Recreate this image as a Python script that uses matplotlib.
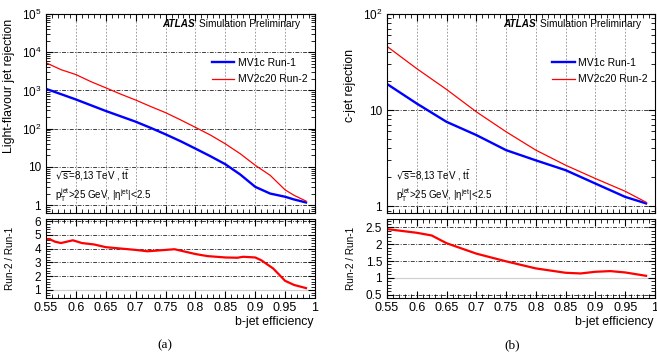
import math
import matplotlib
matplotlib.use('Agg')
import matplotlib.pyplot as plt
from matplotlib.ticker import MultipleLocator, LogLocator, FuncFormatter, NullFormatter

plt.rcParams['font.family'] = ['Liberation Sans', 'DejaVu Sans']
plt.rcParams['mathtext.default'] = 'regular'

# light-flavour jet rejection vs b-jet efficiency
light_eff = [0.55, 0.575, 0.60, 0.625, 0.65, 0.675, 0.70, 0.725, 0.75, 0.775, 0.80, 0.825,
             0.85, 0.875, 0.90, 0.925, 0.95, 0.965, 0.985]
light_mv1c = [1100, 800, 580, 410, 290, 210, 152, 105, 71, 47, 30, 19,
              11.7, 6.3, 3.0, 2.0, 1.65, 1.4, 1.17]
light_mv2c20 = [5300, 3500, 2600, 1700, 1170, 800, 560, 380, 262, 170, 108, 68,
                40, 22, 11, 6.0, 2.5, 1.8, 1.27]
light_ratio_eff = [0.55, 0.555, 0.565, 0.575, 0.585, 0.595, 0.61, 0.62, 0.63, 0.65, 0.70,
                   0.72, 0.75, 0.765, 0.80, 0.82, 0.85, 0.87, 0.88, 0.90, 0.91, 0.93,
                   0.95, 0.965, 0.985]
light_ratio = [4.65, 4.7, 4.5, 4.4, 4.5, 4.6, 4.4, 4.35, 4.3, 4.1, 3.9,
               3.8, 3.9, 3.95, 3.6, 3.45, 3.35, 3.33, 3.4, 3.35, 3.15, 2.55,
               1.65, 1.35, 1.12]

# c-jet rejection vs b-jet efficiency
c_eff = [0.55, 0.60, 0.65, 0.70, 0.75, 0.80, 0.85, 0.90, 0.95, 0.985]
c_mv1c = [18.7, 11.7, 7.55, 5.5, 3.83, 3.0, 2.37, 1.72, 1.25, 1.07]
c_mv2c20 = [46, 27, 16.4, 9.6, 5.95, 3.83, 2.67, 1.94, 1.43, 1.1]
c_ratio_eff = [0.55, 0.60, 0.625, 0.65, 0.70, 0.75, 0.80, 0.85, 0.875, 0.90, 0.925, 0.95, 0.985]
c_ratio = [2.45, 2.34, 2.26, 2.03, 1.72, 1.49, 1.28, 1.15, 1.13, 1.18, 1.2, 1.16, 1.06]

eff_ticks = [0.55, 0.6, 0.65, 0.7, 0.75, 0.8, 0.85, 0.9, 0.95, 1.0]
eff_labels = ['0.55', '0.6', '0.65', '0.7', '0.75', '0.8', '0.85', '0.9', '0.95', '1']

W, H = 657, 352
fig = plt.figure(figsize=(W / 100, H / 100), dpi=100)


def box(x0, x1, y0, y1):
    return [x0 / W, 1 - y1 / H, (x1 - x0) / W, (y1 - y0) / H]


def log_label(v, pos):
    if v == 1:
        return '1'
    if v == 10:
        return '10'
    return r'$10^{%d}$' % int(round(math.log10(v)))


def style_axes(ax):
    ax.tick_params(which='both', direction='in', top=True, right=True, labelsize=8.5)
    ax.tick_params(which='major', length=5, width=0.8)
    ax.tick_params(which='minor', length=3, width=0.6)
    for s in ax.spines.values():
        s.set_linewidth(0.8)
    ax.xaxis.set_major_locator(MultipleLocator(0.05))
    ax.xaxis.set_minor_locator(MultipleLocator(0.01))
    ax.set_xlim(0.55, 1.0)


def draw_panel(x0, x1, ylabel, eff, mv1c, mv2c20, ylim, reff, ratio, rlim, rmajor, rminor,
               tag, tag_x):
    ax = fig.add_axes(box(x0, x1, 14, 213))
    style_axes(ax)
    ax.set_yscale('log')
    ax.set_ylim(*ylim)
    ax.yaxis.set_major_locator(LogLocator(base=10))
    ax.yaxis.set_minor_locator(LogLocator(base=10, subs=range(2, 10)))
    ax.yaxis.set_major_formatter(FuncFormatter(log_label))
    ax.yaxis.set_minor_formatter(NullFormatter())
    ax.xaxis.set_major_formatter(NullFormatter())
    ax.xaxis.grid(True, which='major', linestyle=(0, (2, 2)), color='0.55', lw=0.6)
    ax.yaxis.grid(True, which='major', linestyle=(0, (4, 1.5, 1, 1.5)), color='0.25', lw=0.7)
    ax.plot(eff, mv1c, color='#0000ff', lw=1.7, label='MV1c Run-1')
    ax.plot(eff, mv2c20, color='#ff0000', lw=0.9, label='MV2c20 Run-2')
    ax.set_ylabel(ylabel, fontsize=8.8)
    ax.yaxis.set_label_coords(-0.115, 0.64)
    ax.text(0.432, 0.95, 'ATLAS', transform=ax.transAxes, fontsize=7.2, fontweight='bold',
            fontstyle='italic', ha='left', va='center')
    ax.text(0.57, 0.95, 'Simulation Preliminary', transform=ax.transAxes,
            fontsize=7.3, ha='left', va='center')
    ax.legend(loc='upper left', bbox_to_anchor=(0.6, 0.8), frameon=False, fontsize=7.5,
              handlelength=2.2, handletextpad=0.3, labelspacing=0.6, borderaxespad=0)
    ax.text(0.035, 0.19, r'$\sqrt{s}$=8,13 TeV , $t\bar{t}$', transform=ax.transAxes,
            fontsize=7, ha='left', va='center')
    ax.text(0.035, 0.09, r'$p_{T}^{jet}$>25 GeV, $|\eta^{jet}|$<2.5', transform=ax.transAxes,
            fontsize=7, ha='left', va='center')

    rx = fig.add_axes(box(x0, x1, 219, 298))
    style_axes(rx)
    rx.set_ylim(*rlim)
    rx.yaxis.set_major_locator(MultipleLocator(rmajor))
    rx.yaxis.set_minor_locator(MultipleLocator(rminor))
    rx.yaxis.set_major_formatter(FuncFormatter(lambda v, p: '%g' % v))
    rx.set_xticks(eff_ticks, eff_labels)
    rx.tick_params(axis='x', labelsize=9, pad=3)
    for v in rx.get_yticks():
        if rlim[0] < v <= rlim[1] and abs(v - 1) > 1e-6:
            rx.axhline(v, linestyle=(0, (4, 1.5, 1, 1.5)), color='0.25', lw=0.7, zorder=0)
    rx.axhline(1, color='0.82', lw=0.9, zorder=0)
    rx.plot(reff, ratio, color='#ff0000', lw=1.6)
    rx.set_ylabel('Run-2 / Run-1', fontsize=7.2)
    rx.yaxis.set_label_coords(-0.115, 0.5)
    rx.set_xlabel('b-jet efficiency', fontsize=8.8, ha='right', x=0.995, labelpad=1)
    fig.text(tag_x / W, 1 - 345 / H, tag, fontsize=9.5,
             family=['Liberation Serif', 'DejaVu Serif'], ha='center', va='center')
    return ax, rx


draw_panel(46, 315, 'Light-flavour jet rejection', light_eff, light_mv1c, light_mv2c20,
           (0.62, 1e5), light_ratio_eff, light_ratio, (0.4, 6.15), 1, 0.2, '(a)', 165)
draw_panel(387, 655, 'c-jet rejection', c_eff, c_mv1c, c_mv2c20,
           (0.85, 100), c_ratio_eff, c_ratio, (0.4, 2.75), 0.5, 0.1, '(b)', 512)

fig.savefig('out.png', dpi=100)
